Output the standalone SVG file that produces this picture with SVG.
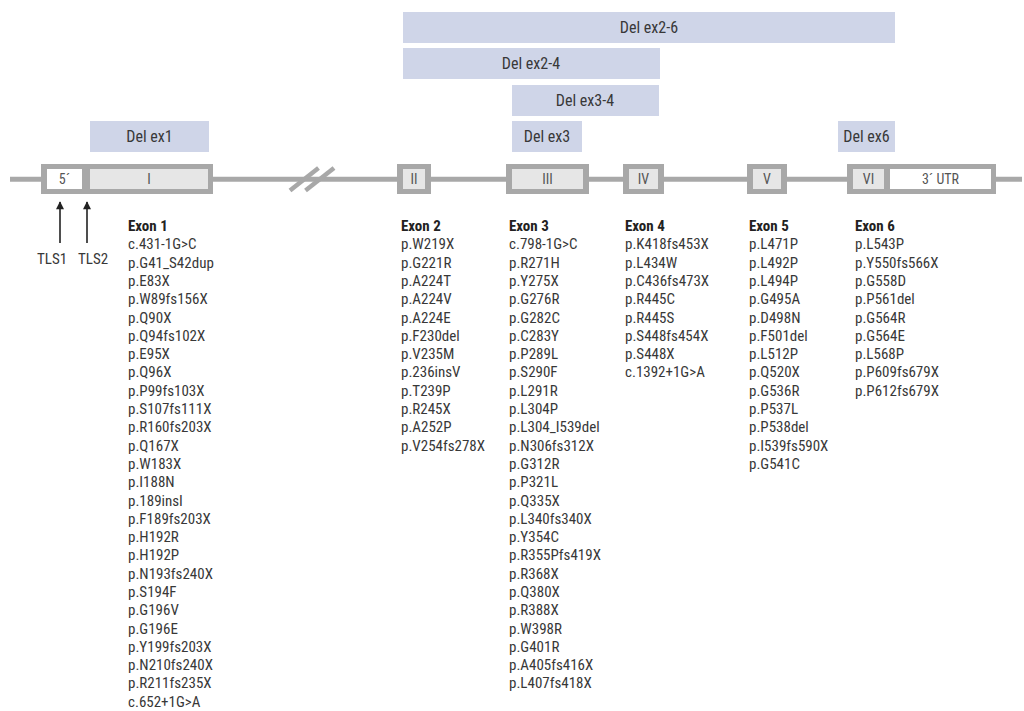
<svg xmlns="http://www.w3.org/2000/svg" width="1024" height="711" viewBox="0 0 1024 711">
<defs>
<style>
text{font-family:"Liberation Sans Narrow","Roboto Condensed","DejaVu Sans Condensed","Liberation Sans",sans-serif;font-stretch:condensed;fill:#383838;}
.del{fill:#cfd5e8;}
.dl{font-size:16px;text-anchor:middle;}
.ex{fill:#a8a8a8;}
.in{fill:#e6e6e6;}
.wh{fill:#ffffff;}
.el{font-size:14px;text-anchor:middle;fill:#555;}
.lst{font-size:15px;}
.hd{font-weight:bold;fill:#222;}
.gl{stroke:#a8a8a8;stroke-width:5;fill:none;}
.ar{stroke:#222;stroke-width:1.6;fill:none;}
</style>
<marker id="ah" viewBox="0 0 10 10" refX="9" refY="5" markerWidth="11" markerHeight="8" markerUnits="userSpaceOnUse" orient="auto"><path d="M0,0L10,5L0,10z" fill="#222"/></marker>
</defs>
<rect width="1024" height="711" fill="#fff"/>

<g id="deletions">
<g id="del-ex2-6"><rect class="del" x="403" y="12" width="492" height="31"/><text class="dl" x="649" y="33">Del ex2-6</text></g>
<g id="del-ex2-4"><rect class="del" x="403" y="48" width="257" height="31"/><text class="dl" x="531" y="69">Del ex2-4</text></g>
<g id="del-ex3-4"><rect class="del" x="512" y="85" width="147" height="31"/><text class="dl" x="585" y="106">Del ex3-4</text></g>
<g id="del-ex3"><rect class="del" x="512" y="121" width="70" height="31"/><text class="dl" x="547" y="142">Del ex3</text></g>
<g id="del-ex6"><rect class="del" x="838" y="121" width="57" height="31"/><text class="dl" x="866.5" y="142">Del ex6</text></g>
<g id="del-ex1"><rect class="del" x="90" y="121" width="119" height="31"/><text class="dl" x="149.5" y="142">Del ex1</text></g>
</g>

<g id="connectors">
<line class="gl" x1="10" y1="179.3" x2="1022" y2="179.3"/>
<line x1="290" y1="190.5" x2="318.5" y2="168" stroke="#a8a8a8" stroke-width="4.5"/>
<line x1="305.5" y1="190.5" x2="334" y2="168" stroke="#a8a8a8" stroke-width="4.5"/>
<line class="ar" x1="60" y1="243" x2="60" y2="202" marker-end="url(#ah)"/>
<line class="ar" x1="87" y1="243" x2="87" y2="202" marker-end="url(#ah)"/>
</g>

<g id="exon1-box">
<rect class="ex" x="41" y="164" width="172" height="30"/>
<rect class="wh" x="47" y="169" width="35" height="20"/>
<rect class="in" x="90" y="169" width="118" height="20"/>
<text class="el" x="64.5" y="184">5´</text>
<text class="el" x="149" y="184">I</text>
</g>
<g id="exon2-box">
<rect class="ex" x="397" y="164" width="34" height="30"/>
<rect class="in" x="403" y="169" width="22" height="20"/>
<text class="el" x="414" y="184">II</text>
</g>
<g id="exon3-box">
<rect class="ex" x="506" y="164" width="83" height="30"/>
<rect class="in" x="512" y="169" width="71" height="20"/>
<text class="el" x="547.5" y="184">III</text>
</g>
<g id="exon4-box">
<rect class="ex" x="623" y="164" width="41" height="30"/>
<rect class="in" x="629" y="169" width="29" height="20"/>
<text class="el" x="643.5" y="184">IV</text>
</g>
<g id="exon5-box">
<rect class="ex" x="747" y="164" width="40" height="30"/>
<rect class="in" x="753" y="169" width="28" height="20"/>
<text class="el" x="767" y="184">V</text>
</g>
<g id="exon6-box">
<rect class="ex" x="847" y="164" width="149" height="30"/>
<rect class="in" x="853" y="169" width="31" height="20"/>
<rect class="wh" x="890" y="169" width="101" height="20"/>
<text class="el" x="868.5" y="184">VI</text>
<text class="el" x="940.5" y="184">3´ UTR</text>
</g>

<g id="tls">
<text class="lst" x="37" y="264">TLS1</text>
<text class="lst" x="78" y="264">TLS2</text>
</g>

<g id="exon1-list">
<text class="lst" x="128" y="231"><tspan class="hd">Exon 1</tspan><tspan x="128" dy="18.3">c.431-1G&gt;C</tspan><tspan x="128" dy="18.3">p.G41_S42dup</tspan><tspan x="128" dy="18.3">p.E83X</tspan><tspan x="128" dy="18.3">p.W89fs156X</tspan><tspan x="128" dy="18.3">p.Q90X</tspan><tspan x="128" dy="18.3">p.Q94fs102X</tspan><tspan x="128" dy="18.3">p.E95X</tspan><tspan x="128" dy="18.3">p.Q96X</tspan><tspan x="128" dy="18.3">p.P99fs103X</tspan><tspan x="128" dy="18.3">p.S107fs111X</tspan><tspan x="128" dy="18.3">p.R160fs203X</tspan><tspan x="128" dy="18.3">p.Q167X</tspan><tspan x="128" dy="18.3">p.W183X</tspan><tspan x="128" dy="18.3">p.I188N</tspan><tspan x="128" dy="18.3">p.189insI</tspan><tspan x="128" dy="18.3">p.F189fs203X</tspan><tspan x="128" dy="18.3">p.H192R</tspan><tspan x="128" dy="18.3">p.H192P</tspan><tspan x="128" dy="18.3">p.N193fs240X</tspan><tspan x="128" dy="18.3">p.S194F</tspan><tspan x="128" dy="18.3">p.G196V</tspan><tspan x="128" dy="18.3">p.G196E</tspan><tspan x="128" dy="18.3">p.Y199fs203X</tspan><tspan x="128" dy="18.3">p.N210fs240X</tspan><tspan x="128" dy="18.3">p.R211fs235X</tspan><tspan x="128" dy="18.3">c.652+1G&gt;A</tspan></text>
</g>

<g id="exon2-list">
<text class="lst" x="401" y="231"><tspan class="hd">Exon 2</tspan><tspan x="401" dy="18.3">p.W219X</tspan><tspan x="401" dy="18.3">p.G221R</tspan><tspan x="401" dy="18.3">p.A224T</tspan><tspan x="401" dy="18.3">p.A224V</tspan><tspan x="401" dy="18.3">p.A224E</tspan><tspan x="401" dy="18.3">p.F230del</tspan><tspan x="401" dy="18.3">p.V235M</tspan><tspan x="401" dy="18.3">p.236insV</tspan><tspan x="401" dy="18.3">p.T239P</tspan><tspan x="401" dy="18.3">p.R245X</tspan><tspan x="401" dy="18.3">p.A252P</tspan><tspan x="401" dy="18.3">p.V254fs278X</tspan></text>
</g>

<g id="exon3-list">
<text class="lst" x="509" y="231"><tspan class="hd">Exon 3</tspan><tspan x="509" dy="18.3">c.798-1G&gt;C</tspan><tspan x="509" dy="18.3">p.R271H</tspan><tspan x="509" dy="18.3">p.Y275X</tspan><tspan x="509" dy="18.3">p.G276R</tspan><tspan x="509" dy="18.3">p.G282C</tspan><tspan x="509" dy="18.3">p.C283Y</tspan><tspan x="509" dy="18.3">p.P289L</tspan><tspan x="509" dy="18.3">p.S290F</tspan><tspan x="509" dy="18.3">p.L291R</tspan><tspan x="509" dy="18.3">p.L304P</tspan><tspan x="509" dy="18.3">p.L304_I539del</tspan><tspan x="509" dy="18.3">p.N306fs312X</tspan><tspan x="509" dy="18.3">p.G312R</tspan><tspan x="509" dy="18.3">p.P321L</tspan><tspan x="509" dy="18.3">p.Q335X</tspan><tspan x="509" dy="18.3">p.L340fs340X</tspan><tspan x="509" dy="18.3">p.Y354C</tspan><tspan x="509" dy="18.3">p.R355Pfs419X</tspan><tspan x="509" dy="18.3">p.R368X</tspan><tspan x="509" dy="18.3">p.Q380X</tspan><tspan x="509" dy="18.3">p.R388X</tspan><tspan x="509" dy="18.3">p.W398R</tspan><tspan x="509" dy="18.3">p.G401R</tspan><tspan x="509" dy="18.3">p.A405fs416X</tspan><tspan x="509" dy="18.3">p.L407fs418X</tspan></text>
</g>

<g id="exon4-list">
<text class="lst" x="625" y="231"><tspan class="hd">Exon 4</tspan><tspan x="625" dy="18.3">p.K418fs453X</tspan><tspan x="625" dy="18.3">p.L434W</tspan><tspan x="625" dy="18.3">p.C436fs473X</tspan><tspan x="625" dy="18.3">p.R445C</tspan><tspan x="625" dy="18.3">p.R445S</tspan><tspan x="625" dy="18.3">p.S448fs454X</tspan><tspan x="625" dy="18.3">p.S448X</tspan><tspan x="625" dy="18.3">c.1392+1G&gt;A</tspan></text>
</g>

<g id="exon5-list">
<text class="lst" x="749" y="231"><tspan class="hd">Exon 5</tspan><tspan x="749" dy="18.3">p.L471P</tspan><tspan x="749" dy="18.3">p.L492P</tspan><tspan x="749" dy="18.3">p.L494P</tspan><tspan x="749" dy="18.3">p.G495A</tspan><tspan x="749" dy="18.3">p.D498N</tspan><tspan x="749" dy="18.3">p.F501del</tspan><tspan x="749" dy="18.3">p.L512P</tspan><tspan x="749" dy="18.3">p.Q520X</tspan><tspan x="749" dy="18.3">p.G536R</tspan><tspan x="749" dy="18.3">p.P537L</tspan><tspan x="749" dy="18.3">p.P538del</tspan><tspan x="749" dy="18.3">p.I539fs590X</tspan><tspan x="749" dy="18.3">p.G541C</tspan></text>
</g>

<g id="exon6-list">
<text class="lst" x="855" y="231"><tspan class="hd">Exon 6</tspan><tspan x="855" dy="18.3">p.L543P</tspan><tspan x="855" dy="18.3">p.Y550fs566X</tspan><tspan x="855" dy="18.3">p.G558D</tspan><tspan x="855" dy="18.3">p.P561del</tspan><tspan x="855" dy="18.3">p.G564R</tspan><tspan x="855" dy="18.3">p.G564E</tspan><tspan x="855" dy="18.3">p.L568P</tspan><tspan x="855" dy="18.3">p.P609fs679X</tspan><tspan x="855" dy="18.3">p.P612fs679X</tspan></text>
</g>
</svg>
